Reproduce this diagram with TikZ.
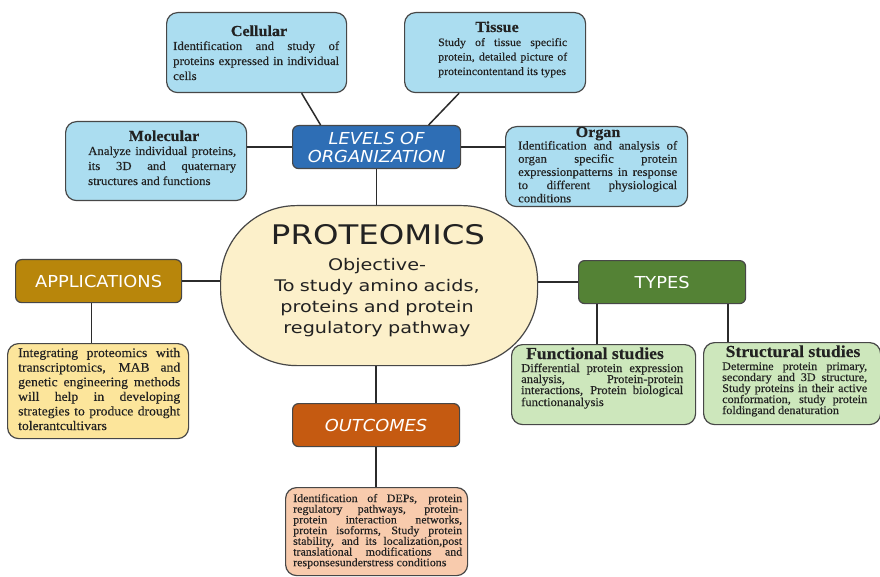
\documentclass[tikz,border=0pt]{standalone}
\usepackage{fontspec}
\setmainfont{Liberation Serif}
\newfontfamily\bodyfont{Liberation Serif}[FakeStretch=1.05,FakeBold=0.3]
\newfontfamily\headfont{DejaVu Sans}[FakeStretch=1.08]
\newfontfamily\handfont{DejaVu Sans}[FakeStretch=1.2]
\hyphenpenalty=10000
\exhyphenpenalty=10000
\tolerance=9999
\newcommand\bdyfs[2]{\bodyfont\fontsize{#1}{#2}\selectfont}
\definecolor{edgec}{HTML}{474747}
\definecolor{linec}{HTML}{2B2B2B}
\definecolor{lblue}{HTML}{ABDDF0}
\definecolor{dblue}{HTML}{2E6EB5}
\definecolor{cream}{HTML}{FCF0CA}
\definecolor{gold}{HTML}{B8860B}
\definecolor{lyellow}{HTML}{FCE59B}
\definecolor{dgreen}{HTML}{548235}
\definecolor{lgreen}{HTML}{CDE7BC}
\definecolor{dorange}{HTML}{C55A11}
\definecolor{peach}{HTML}{F8CBAD}
\definecolor{txtc}{HTML}{222222}
\tikzset{
  lbox/.style={draw=edgec, line width=1.2pt, rounded corners=11pt, anchor=north west, inner sep=0pt},
  hbox/.style={draw=edgec, line width=1.2pt, rounded corners=6pt, anchor=north west, inner sep=0pt,
    text=white, align=center, font=\headfont\fontsize{16.5}{18}\selectfont},
  ttl/.style={anchor=base, inner sep=0pt, text=txtc, font=\bodyfont\bfseries\fontsize{15.3}{15}\selectfont},
  bigttl/.style={anchor=base, inner sep=0pt, text=txtc, font=\bodyfont\bfseries\fontsize{16.8}{16}\selectfont},
  bodytxt/.style={anchor=base west, inner sep=0pt, align=justify, text width=#1, text=txtc},
  conn/.style={draw=linec, line width=1.5pt}
}
\begin{document}
\begin{tikzpicture}[x=1pt,y=-1pt]
\useasboundingbox (0,0) rectangle (880,577);
\fill[white] (0,0) rectangle (880,577);

% ---------- levels of organization ----------
\node[lbox, fill=lblue, minimum width=180pt, minimum height=80pt] (cell) at (166,12) {};
\node[ttl] (cellt) at (259,36) {Cellular};
\node[bodytxt=166pt, font=\bdyfs{12.2}{15}] (cellb) at (173,50)
  {Identification and study of\linebreak proteins expressed in individual\linebreak cells};

\node[lbox, fill=lblue, minimum width=181pt, minimum height=80pt] (tis) at (404,12) {};
\node[ttl] (tist) at (497,32) {Tissue};
\node[bodytxt=129pt, font=\bdyfs{11.3}{14.5}] (tisb) at (438,46)
  {Study of tissue specific\linebreak protein, detailed picture of\linebreak proteincontentand its types};

\node[lbox, fill=lblue, minimum width=181pt, minimum height=79pt] (mol) at (65,121) {};
\node[ttl] (molt) at (164,141) {Molecular};
\node[bodytxt=148pt, font=\bdyfs{12.2}{15}] (molb) at (88,155)
  {Analyze individual proteins,\linebreak its 3D and quaternary\linebreak structures and functions};

\node[lbox, fill=lblue, minimum width=182pt, minimum height=80pt] (org) at (505,126) {};
\node[ttl] (orgt) at (598,137) {Organ};
\node[bodytxt=159pt, font=\bdyfs{12.1}{13.2}] (orgb) at (518,149.5)
  {Identification and analysis of\linebreak organ specific protein\linebreak expressionpatterns in response\linebreak to different physiological\linebreak conditions};

\node[hbox, fill=dblue, minimum width=168pt, minimum height=43pt] (lvl) at (292,125)
  {\itshape LEVELS OF\\\itshape ORGANIZATION};

% ---------- center ----------
\node[draw=edgec, line width=1.2pt, fill=cream, rounded corners=76pt, anchor=north west,
  minimum width=317pt, minimum height=160pt, inner sep=0pt] (prot) at (220,205) {};
\node[anchor=base, inner sep=0pt, text=txtc, font=\handfont\fontsize{27}{27}\selectfont] (prott) at (378,244) {PROTEOMICS};
\node[anchor=base, inner sep=0pt, text width=260pt, align=center, text=txtc,
  font=\handfont\fontsize{16}{21}\selectfont] (protb) at (377,270)
  {Objective-\\To study amino acids,\\proteins and protein\\regulatory pathway};

% ---------- applications ----------
\node[hbox, fill=gold, minimum width=166pt, minimum height=43pt] (app) at (15,259) {APPLICATIONS};
\node[lbox, fill=lyellow, minimum width=181pt, minimum height=95pt] (appx) at (7,343) {};
\node[bodytxt=162pt, font=\bdyfs{13}{14.6}] (appb) at (18,357)
  {Integrating proteomics with\linebreak transcriptomics, MAB and\linebreak genetic engineering methods\linebreak will help in developing\linebreak strategies to produce drought\linebreak tolerantcultivars};

% ---------- types ----------
\node[hbox, fill=dgreen, minimum width=167pt, minimum height=43pt] (typ) at (578,260) {TYPES};
\node[lbox, fill=lgreen, minimum width=184pt, minimum height=80pt] (fun) at (511,344) {};
\node[bigttl] (funt) at (595,359) {Functional studies};
\node[bodytxt=162pt, font=\bdyfs{12}{11}] (funb) at (521,372)
  {Differential protein expression\linebreak analysis, Protein-protein\linebreak interactions, Protein biological\linebreak functionanalysis};

\node[lbox, fill=lgreen, minimum width=177pt, minimum height=82pt] (str) at (703,342) {};
\node[bigttl] (strt) at (793,357) {Structural studies};
\node[bodytxt=145pt, font=\bdyfs{11.6}{11}] (strb) at (722,370)
  {Determine protein primary,\linebreak secondary and 3D structure,\linebreak Study proteins in their active\linebreak conformation, study protein\linebreak foldingand denaturation};

% ---------- outcomes ----------
\node[hbox, fill=dorange, minimum width=167pt, minimum height=43pt] (out) at (292,403) {\itshape OUTCOMES};
\node[lbox, fill=peach, minimum width=182pt, minimum height=88pt] (outx) at (285,487) {};
\node[bodytxt=169pt, font=\bdyfs{11.4}{10.7}] (outb) at (293,502)
  {Identification of DEPs, protein\linebreak regulatory pathways, protein-\linebreak protein interaction networks,\linebreak protein isoforms, Study protein\linebreak stability, and its localization,post\linebreak translational modifications and\linebreak responsesunderstress conditions};

% ---------- connectors ----------
\draw[conn] ([xshift=-56pt]lvl.north) -- ([xshift=45pt]cell.south);
\draw[conn] ([xshift=52pt]lvl.north) -- ([xshift=-36pt]tis.south);
\draw[conn] (lvl.west) -- (lvl.west -| mol.east);
\draw[conn] (lvl.east) -- (lvl.east -| org.west);
\draw[conn] (lvl.south) -- (lvl.south |- prot.north);
\draw[conn] (app.east) -- (app.east -| prot.west);
\draw[conn] ([xshift=-7pt]app.south) -- ([xshift=-7pt]app.south |- appx.north);
\draw[conn] (typ.west) -- (typ.west -| prot.east);
\draw[conn] ([xshift=-65pt]typ.south) -- ([xshift=-65pt]typ.south |- fun.north);
\draw[conn] ([xshift=66pt]typ.south) -- ([xshift=66pt]typ.south |- str.north);
\draw[conn] (out.north) -- (out.north |- prot.south);
\draw[conn] (out.south) -- (out.south |- outx.north);
\end{tikzpicture}
\end{document}
